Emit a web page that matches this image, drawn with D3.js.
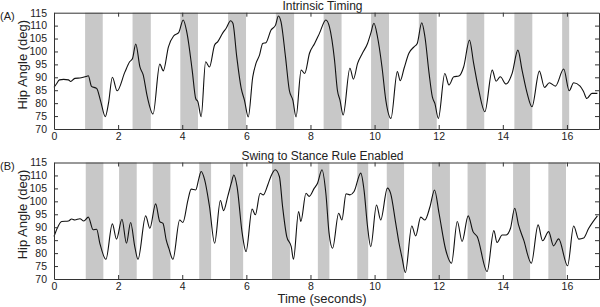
<!DOCTYPE html>
<html><head><meta charset="utf-8">
<script src="https://cdn.jsdelivr.net/npm/d3@7"></script>
<style>body{margin:0;background:#fff}svg{display:block;font-family:"Liberation Sans",Arial,sans-serif}</style>
</head><body><svg id="c" width="600" height="307"></svg>
<script>
const timeA = [0,0.08,0.17,0.30,0.45,0.52,0.65,0.85,1.00,1.07,1.17,1.33,1.45,1.60,1.70,1.82,1.97,2.21,2.36,2.45,2.55,2.68,2.78,2.91,3.09,3.30,3.41,3.57,3.73,3.89,4.03,4.15,4.31,4.42,4.49,4.59,4.73,4.85,5.01,5.11,5.27,5.37,5.51,5.58,5.70,5.84,5.94,6.06,6.20,6.30,6.41,6.51,6.61,6.77,6.91,7.00,7.08,7.22,7.34,7.45,7.55,7.71,7.82,7.97,8.13,8.28,8.48,8.59,8.75,8.84,8.92,9.02,9.23,9.34,9.47,9.62,9.78,9.88,9.98,10.09,10.23,10.35,10.51,10.71,10.80,10.92,11.07,11.23,11.33,11.47,11.57,11.70,11.80,11.88,11.99,12.19,12.32,12.47,12.63,12.78,12.96,13.09,13.25,13.44,13.67,13.79,13.92,14.10,14.29,14.47,14.60,14.76,14.91,15.14,15.30,15.45,15.64,15.90,16.07,16.21,16.41,16.52,16.62,16.78,16.95];
const hipA = [86.1,87.5,89.0,89.2,89.0,88.4,89.6,89.8,90.3,90.6,86.5,85.7,81,74.8,80,90.0,84.8,92,96,97.3,102.9,94,91,82.5,75.8,95.1,92.5,101.8,106,107.3,112.2,107,92.8,81.8,80.5,74.8,96,94,102.5,103.8,107.3,109,111.9,110.9,98,85.7,81.2,74.7,90.2,95.4,98.6,103.1,103.4,108.3,110.2,113.7,111.5,98,85,81.2,74.7,92.8,91.5,99.3,103.1,107,112.2,109.6,96.7,85,81.2,75.4,93.5,89.3,95.4,99.3,103.1,107,110.9,105.7,94.1,81.2,74.1,92.2,88.7,93.5,99.3,101.8,103.1,111.1,105.7,91.5,82.5,79.9,74.1,91.5,87,90.2,90.5,94.1,104.4,95.4,85,76.7,92.8,88.5,90.2,87.4,91.5,100.5,92.8,83.8,78.6,92.4,86.1,87.9,86.6,93.2,84.8,87.9,86.6,84.4,81.8,83.8,83.8];
const timeB = [0,0.10,0.24,0.45,0.55,0.65,0.81,0.93,1.07,1.22,1.33,1.43,1.62,1.82,1.95,2.12,2.26,2.39,2.52,2.62,2.86,2.99,3.17,3.30,3.40,3.50,3.58,3.71,3.92,4.02,4.18,4.28,4.42,4.52,4.59,4.70,4.85,5.01,5.19,5.29,5.42,5.53,5.61,5.71,5.87,5.99,6.18,6.28,6.43,6.53,6.67,6.77,6.90,7.03,7.13,7.26,7.40,7.47,7.63,7.70,7.86,7.96,8.12,8.22,8.36,8.48,8.58,8.69,8.88,8.98,9.11,9.23,9.36,9.57,9.67,9.78,9.88,10.06,10.19,10.40,10.50,10.66,10.76,10.86,10.96,11.16,11.28,11.44,11.57,11.73,11.87,12.01,12.22,12.40,12.58,12.73,12.92,13.07,13.20,13.51,13.72,13.82,13.98,14.10,14.24,14.37,14.49,14.65,14.89,15.10,15.24,15.43,15.58,15.74,16.02,16.21,16.37,16.52,16.68,16.95];
const hipB = [86.4,89.6,92.2,92.4,93.2,92.8,93.3,92.4,93.9,89,89.2,83.8,77.6,91.3,85.4,93.1,83.8,91.8,82.5,77.6,94.4,89.6,99,92.2,91.5,85.1,81.9,77.6,92.8,91.8,100.6,104.7,104.4,108.9,111.5,108.3,98,83.8,100.3,96.4,101.9,107,110.2,105.7,87.7,80.6,97,94.8,103.1,102.5,106.4,109.8,112.2,109.6,98,86.4,82.5,77.6,96.1,92.2,103.1,101.9,105.1,107,112.2,103.1,87.7,81.9,95.4,92.8,102.9,102.5,103.8,110.9,104.4,90.3,82.5,98.6,92.8,105.1,103.1,91.5,84,78,72.5,90.5,86.6,93.9,92.8,98,104.4,95.4,81.2,76.1,92.2,84.5,94.4,88.3,86.4,72.9,88.7,84.1,87,87,89.6,97.3,90.9,85.1,76.1,90.9,84.8,88.3,82.8,85.5,75.1,90.5,85.4,85.8,89.6,94.4];
const bandStartA = [0.97,2.45,3.94,5.43,6.92,8.41,9.89,11.38,12.87,14.36,15.85];
const bandEndA   = [1.52,3.02,4.49,5.99,7.49,8.97,10.45,11.94,13.42,14.92,16.07];
const bandStartB = [0.99,2.03,3.08,4.53,5.49,6.80,8.23,9.46,10.38,11.79,12.90,14.32,15.42];
const bandEndB   = [1.54,2.58,3.63,4.90,5.90,7.36,8.59,9.80,10.92,12.35,13.47,14.85,15.97];
const xTicks = [0,2,4,6,8,10,12,14,16];
const yTicks = [70,75,80,85,90,95,100,105,110,115];
const titles = ["Intrinsic Timing","Swing to Stance Rule Enabled"];
const panelTags = ["(A)","(B)"];
const yLabel = "Hip Angle (deg)";
const xLabel = "Time (seconds)";

const svg = d3.select("#c");
const x = d3.scaleLinear().domain([0,17]).range([54,599]);
const panels = [
  {top:12.7, bottom:129, t:timeA, v:hipA, bs:bandStartA, be:bandEndA},
  {top:162.5, bottom:279, t:timeB, v:hipB, bs:bandStartB, be:bandEndB}
];
panels.forEach((p,i)=>{
  const y = d3.scaleLinear().domain([70,115]).range([p.bottom,p.top]);
  const g = svg.append("g");
  g.selectAll("rect.band").data(p.bs.map((s,k)=>[s,p.be[k]])).join("rect")
    .attr("x",d=>x(d[0])).attr("width",d=>x(d[1])-x(d[0]))
    .attr("y",p.top).attr("height",p.bottom-p.top).attr("fill","#c8c8c8");
  const line = d3.line().x((d,k)=>x(p.t[k])).y(d=>y(d)).curve(d3.curveMonotoneX);
  g.append("path").attr("d",line(p.v)).attr("fill","none").attr("stroke","#111").attr("stroke-width",1.1);
  const ax = (axis,tx,ty)=>g.append("g").attr("transform",`translate(${tx},${ty})`).call(axis);
  const bottomA = ax(d3.axisBottom(x).tickValues(xTicks).tickSizeInner(-4).tickSizeOuter(0).tickPadding(4),0,p.bottom);
  const topA = ax(d3.axisTop(x).tickValues(xTicks).tickSizeInner(-4).tickSizeOuter(0).tickFormat(""),0,p.top);
  const leftA = ax(d3.axisLeft(y).tickValues(yTicks).tickSizeInner(-4).tickSizeOuter(0).tickPadding(7),54,0);
  const rightA = ax(d3.axisRight(y).tickValues(yTicks).tickSizeInner(-4).tickSizeOuter(0).tickFormat(""),599,0);
  [bottomA,topA,leftA,rightA].forEach(a=>{
    a.select(".domain").attr("stroke","#333");
    a.selectAll(".tick line").attr("stroke","#333");
    a.selectAll(".tick text").attr("font-size",10.5).attr("fill","#222").attr("font-family","Liberation Sans, Arial, sans-serif");
  });
  leftA.selectAll(".tick").filter(d=>d===115||d===70).select("line").attr("opacity",0);
  rightA.selectAll(".tick").filter(d=>d===115||d===70).select("line").attr("opacity",0);
  g.append("text").attr("x",(54+599)/2 - 4).attr("y",p.top-2.5).attr("text-anchor","middle")
    .attr("font-size",12).attr("fill","#222").text(titles[i]);
  g.append("text").attr("x",0).attr("y",p.top+7).attr("font-size",11).attr("fill","#222").text(panelTags[i]);
  g.append("text").attr("transform",`translate(27,${p.top+52}) rotate(-90)`).attr("text-anchor","middle")
    .attr("font-size",13).attr("fill","#222").text(yLabel);
});
svg.append("text").attr("x",322).attr("y",303).attr("text-anchor","middle").attr("font-size",13).attr("fill","#222").text(xLabel);
</script></body></html>
